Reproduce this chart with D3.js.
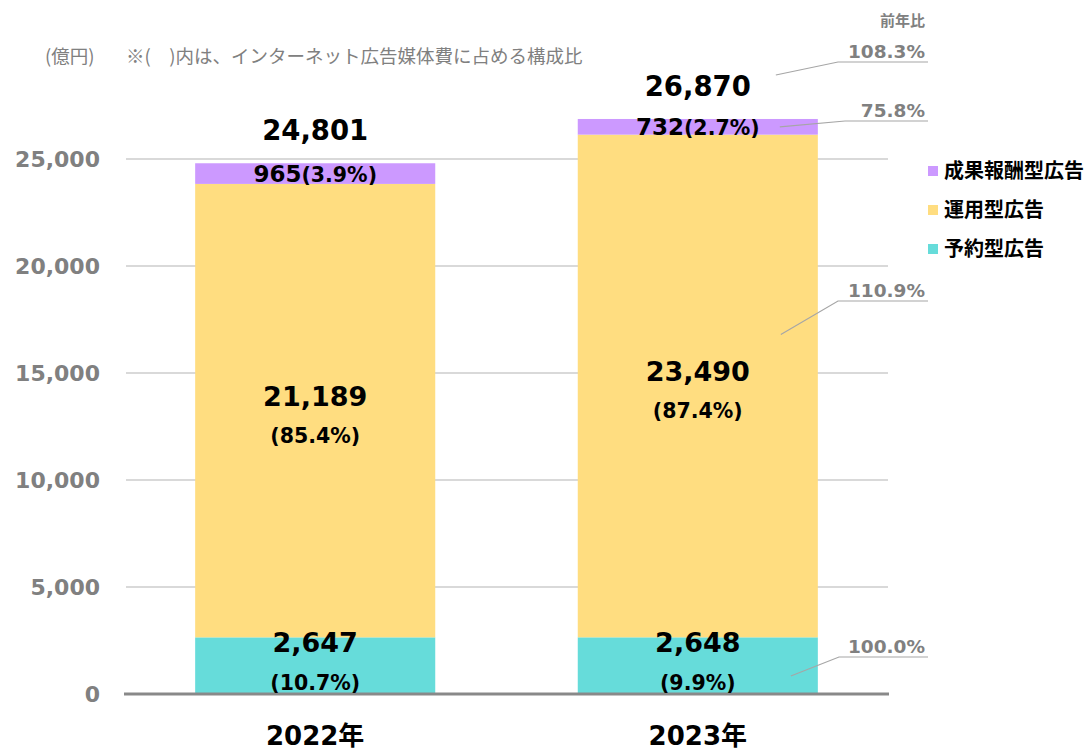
<!DOCTYPE html>
<html>
<head>
<meta charset="utf-8">
<script src="https://cdn.jsdelivr.net/npm/d3@7"></script>
<style>
  body { margin: 0; background: #fff; }
  svg { display: block; }
</style>
</head>
<body>
<svg id="chart"></svg>
<script>
// chart data
const years = ["2022年", "2023年"];
const seriesNames = ["予約型広告", "運用型広告", "成果報酬型広告"];
const reservation = [2647, 2648];
const programmatic = [21189, 23490];
const performanceAds = [965, 732];
const reservationShare = [10.7, 9.9];
const programmaticShare = [85.4, 87.4];
const performanceShare = [3.9, 2.7];
const totals = [24801, 26870];
const yTicks = [0, 5000, 10000, 15000, 20000, 25000];
const yoyKeys = ["total", "成果報酬型広告", "運用型広告", "予約型広告"];
const yoyLabels = ["108.3%", "75.8%", "110.9%", "100.0%"];

const width = 1087, height = 751;
const colors = {
  "予約型広告": "#66dcda",
  "運用型広告": "#ffdd80",
  "成果報酬型広告": "#cc99ff"
};
const grey = "#808080";
const numFont = "'DejaVu Sans', Verdana, 'Noto Sans CJK JP', sans-serif";
const jpFont = "'Noto Sans CJK JP', sans-serif";

let svg = d3.select('#chart')
    .attr('width', width)
    .attr('height', height);

let x = d3.scaleBand()
    .domain(years)
    .range([124, 889])
    .paddingInner(0.3725)
    .paddingOuter(0.186);

let y = d3.scaleLinear()
    .domain([0, 25000])
    .range([694, 159]);

// table of rows for the stack
let rows = years.map((yr, i) => ({
  year: yr,
  "予約型広告": reservation[i],
  "運用型広告": programmatic[i],
  "成果報酬型広告": performanceAds[i]
}));
let shares = {
  "予約型広告": reservationShare,
  "運用型広告": programmaticShare,
  "成果報酬型広告": performanceShare
};

let stacked = d3.stack().keys(seriesNames)(rows);

// gridlines
svg.append('g')
  .selectAll('line')
    .data(yTicks.filter(d => d > 0))
  .enter().append('line')
    .attr('x1', 126)
    .attr('x2', 888)
    .attr('y1', d => y(d))
    .attr('y2', d => y(d))
    .style('stroke', '#d9d9d9')
    .style('stroke-width', '2px');

// y axis labels
let yAxis = d3.axisLeft(y)
    .tickValues(yTicks)
    .tickFormat(d3.format(','))
    .tickSize(0)
    .tickPadding(0);

let yg = svg.append('g')
    .attr('transform', 'translate(100,0)')
    .call(yAxis);
yg.select('.domain').remove();
yg.selectAll('text')
    .attr('dy', '0.33em')
    .style('font-family', numFont)
    .style('font-weight', 'bold')
    .style('font-size', '22px')
    .style('fill', grey);

// bars
let layers = svg.selectAll('g.layer')
    .data(stacked)
  .enter().append('g')
    .attr('class', 'layer')
    .style('fill', d => colors[d.key]);

layers.selectAll('rect')
    .data(d => d)
  .enter().append('rect')
    .attr('x', d => x(d.data.year))
    .attr('width', x.bandwidth())
    .attr('y', d => y(d[1]))
    .attr('height', d => y(d[0]) - y(d[1]));

// baseline
svg.append('line')
    .attr('x1', 124)
    .attr('x2', 889)
    .attr('y1', y(0))
    .attr('y2', y(0))
    .style('stroke', '#898989')
    .style('stroke-width', '3px');

let fmt = d3.format(',');
let labels = svg.append('g').style('font-family', numFont).style('font-weight', 'bold')
    .attr('text-anchor', 'middle').style('fill', '#000');

stacked.forEach(layer => {
  layer.forEach((d, i) => {
    let cx = x(d.data.year) + x.bandwidth() / 2;
    let top = y(d[1]), bot = y(d[0]);
    let mid = (top + bot) / 2;
    let val = d[1] - d[0];
    let pct = '(' + shares[layer.key][i].toFixed(1) + '%)';
    if (layer.key === "成果報酬型広告") {
      let t = labels.append('text').attr('x', cx).attr('y', mid + 8);
      t.append('tspan').style('font-size', '23px').text(fmt(val));
      t.append('tspan').style('font-size', '20.5px').text(pct);
    } else if (layer.key === "運用型広告") {
      labels.append('text').attr('x', cx).attr('y', mid - 5)
          .style('font-size', '27px').text(fmt(val));
      labels.append('text').attr('x', cx).attr('y', mid + 32)
          .style('font-size', '20.5px').text(pct);
    } else {
      labels.append('text').attr('x', cx).attr('y', mid - 14)
          .style('font-size', '27px').text(fmt(val));
      labels.append('text').attr('x', cx).attr('y', mid + 24)
          .style('font-size', '20.5px').text(pct);
    }
  });
});

// totals
labels.selectAll('text.total')
    .data(totals)
  .enter().append('text')
    .attr('class', 'total')
    .attr('x', (d, i) => x(years[i]) + x.bandwidth() / 2)
    .attr('y', d => y(d) - 23)
    .style('font-size', '27.5px')
    .text(d => fmt(d));

// x labels
svg.append('g')
  .selectAll('text')
    .data(years)
  .enter().append('text')
    .attr('x', d => x(d) + x.bandwidth() / 2)
    .attr('y', 745)
    .attr('text-anchor', 'middle')
    .style('font-family', numFont)
    .style('font-weight', 'bold')
    .style('font-size', '26px')
    .style('fill', '#000')
    .text(d => d);

// title note
let note = svg.append('text')
    .attr('y', 63)
    .style('font-family', jpFont)
    .style('font-size', '18.5px')
    .style('fill', grey);
note.append('tspan').attr('x', 45).text('(億円)');
note.append('tspan').attr('x', 126).text('※(　)内は、インターネット広告媒体費に占める構成比');

// legend
let legend = svg.append('g')
  .selectAll('g')
    .data(seriesNames.slice().reverse())
  .enter().append('g')
    .attr('transform', (d, i) => `translate(928,${171 + i * 39})`);
legend.append('rect')
    .attr('y', -5)
    .attr('width', 10)
    .attr('height', 10)
    .style('fill', d => colors[d]);
legend.append('text')
    .attr('x', 16)
    .attr('dy', '0.36em')
    .style('font-family', jpFont)
    .style('font-weight', 'bold')
    .style('font-size', '20px')
    .style('fill', '#000')
    .text(d => d);

// year-on-year callouts (2023 bar)
svg.append('text')
    .attr('x', 925)
    .attr('y', 26)
    .attr('text-anchor', 'end')
    .style('font-family', jpFont)
    .style('font-weight', 'bold')
    .style('font-size', '15px')
    .style('fill', grey)
    .text('前年比');

let last = stacked.map(s => s[1]);
let barRight = x(years[1]) + x.bandwidth();
let anchors = {
  "total": [barRight - 42, y(totals[1]) - 44],
  "成果報酬型広告": [barRight - 38, (y(last[2][0]) + y(last[2][1])) / 2],
  "運用型広告": [barRight - 37, y(16800)],
  "予約型広告": [barRight - 27, y(840)]
};
// underline rows, placed beside the chart
let calloutRows = [62, 121, 301, 657];
let calloutStart = [838, 845, 838, 839];

let callouts = svg.append('g');
yoyKeys.forEach((k, i) => {
  let a = anchors[k];
  callouts.append('polyline')
      .attr('points', `${a[0]},${a[1]} ${calloutStart[i]},${calloutRows[i]} 928,${calloutRows[i]}`)
      .style('fill', 'none')
      .style('stroke', '#a6a6a6')
      .style('stroke-width', '1.2px');
  callouts.append('text')
      .attr('x', 925)
      .attr('y', calloutRows[i] - 4)
      .attr('text-anchor', 'end')
      .style('font-family', numFont)
      .style('font-weight', 'bold')
      .style('font-size', '18.5px')
      .style('fill', grey)
      .text(yoyLabels[i]);
});
</script>
</body>
</html>
